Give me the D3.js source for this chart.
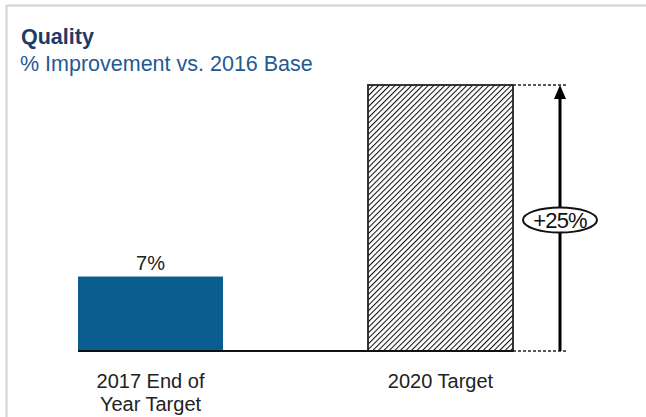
<!DOCTYPE html>
<html>
<head>
<meta charset="utf-8">
<script src="https://cdn.jsdelivr.net/npm/d3@7"></script>
<style>
  html, body { margin: 0; padding: 0; background: #fff; }
  svg { display: block; font-family: "Liberation Sans", Arial, Helvetica, sans-serif; }
</style>
</head>
<body>
<svg id="chart" width="646" height="417"></svg>
<script>
// Quality improvement: actual end-of-year target vs. 2020 target
const categories = ["2017 End of Year Target", "2020 Target"];
const categoryLines = [["2017 End of", "Year Target"], ["2020 Target"]];
const values = [7, 25];
const valueLabels = ["7%", null];
const deltaLabel = "+25%";

const svg = d3.select("#chart");
const W = 646, H = 417;

// Frame (top and left edges of a panel)
svg.append("line").attr("x1", 6).attr("x2", W).attr("y1", 5.5).attr("y2", 5.5)
  .attr("stroke", "#d4d4d4").attr("stroke-width", 2);
svg.append("line").attr("x1", 6.5).attr("x2", 6.5).attr("y1", 5).attr("y2", H)
  .attr("stroke", "#d4d4d4").attr("stroke-width", 2);

// Titles
svg.append("text").attr("x", 21).attr("y", 44)
  .attr("font-size", 21.5).attr("font-weight", "bold").attr("fill", "#1b3b68")
  .text("Quality");
svg.append("text").attr("x", 20).attr("y", 71)
  .attr("font-size", 21.5).attr("fill", "#1f5a94")
  .text("% Improvement vs. 2016 Base");

// Scales
const x = d3.scaleBand().domain(categories).range([5.5, 585.5])
  .paddingInner(0.5).paddingOuter(0.25);
const y = d3.scaleLinear().domain([0, 25]).range([351, 85]);

// Hatch pattern for the target bar
const hs = 3.9;
const defs = svg.append("defs");
const pat = defs.append("pattern").attr("id", "hatch")
  .attr("patternUnits", "userSpaceOnUse").attr("width", hs).attr("height", hs)
  .attr("patternTransform", "rotate(45)");
pat.append("rect").attr("width", hs).attr("height", hs).attr("fill", "#fff");
pat.append("line").attr("x1", 0).attr("y1", 0).attr("x2", 0).attr("y2", hs)
  .attr("stroke", "#111").attr("stroke-width", 2.1);

// Bars
svg.selectAll("rect.bar").data(categories).enter().append("rect")
  .attr("class", "bar")
  .attr("x", d => x(d))
  .attr("y", (d, i) => y(values[i]))
  .attr("width", x.bandwidth())
  .attr("height", (d, i) => y(0) - y(values[i]))
  .attr("fill", (d, i) => i === 0 ? "#0b5d90" : "url(#hatch)")
  .attr("stroke", (d, i) => i === 0 ? "none" : "#222")
  .attr("stroke-width", 1.8);

// Baseline
svg.append("line")
  .attr("x1", x(categories[0])).attr("x2", x(categories[1]) + x.bandwidth())
  .attr("y1", y(0)).attr("y2", y(0))
  .attr("stroke", "#111").attr("stroke-width", 2);

// Value label
valueLabels.forEach((lab, i) => {
  if (!lab) return;
  svg.append("text")
    .attr("x", x(categories[i]) + x.bandwidth() / 2)
    .attr("y", y(values[i]) - 7)
    .attr("text-anchor", "middle").attr("font-size", 20).attr("fill", "#222")
    .text(lab);
});

// Category labels
categoryLines.forEach((lines, i) => {
  const t = svg.append("text")
    .attr("x", x(categories[i]) + x.bandwidth() / 2)
    .attr("y", y(0) + 37)
    .attr("text-anchor", "middle").attr("font-size", 20).attr("fill", "#222");
  lines.forEach((ln, j) => {
    t.append("tspan").attr("x", x(categories[i]) + x.bandwidth() / 2)
      .attr("dy", j === 0 ? 0 : 23).text(ln);
  });
});

// Delta annotation: dashed guides, arrow and oval label
const barRight = x(categories[1]) + x.bandwidth();
const ax = barRight + 47;
[values[1], 0].forEach(v => {
  svg.append("line").attr("x1", barRight).attr("x2", ax + 6)
    .attr("y1", y(v)).attr("y2", y(v))
    .attr("stroke", "#222").attr("stroke-width", 1.3).attr("stroke-dasharray", "3,2");
});
svg.append("line").attr("x1", ax).attr("x2", ax)
  .attr("y1", y(0)).attr("y2", y(values[1]) + 10)
  .attr("stroke", "#000").attr("stroke-width", 3);
svg.append("path")
  .attr("d", `M${ax},${y(values[1])} L${ax - 6},${y(values[1]) + 14} L${ax + 6},${y(values[1]) + 14} Z`)
  .attr("fill", "#000");

const cy = 220;
svg.append("ellipse").attr("cx", ax).attr("cy", cy).attr("rx", 37).attr("ry", 12.5)
  .attr("fill", "#fff").attr("stroke", "#111").attr("stroke-width", 2);
svg.append("text").attr("x", ax).attr("y", cy + 8)
  .attr("text-anchor", "middle").attr("font-size", 22).attr("letter-spacing", -0.8)
  .attr("fill", "#111")
  .text(deltaLabel);
</script>
</body>
</html>
